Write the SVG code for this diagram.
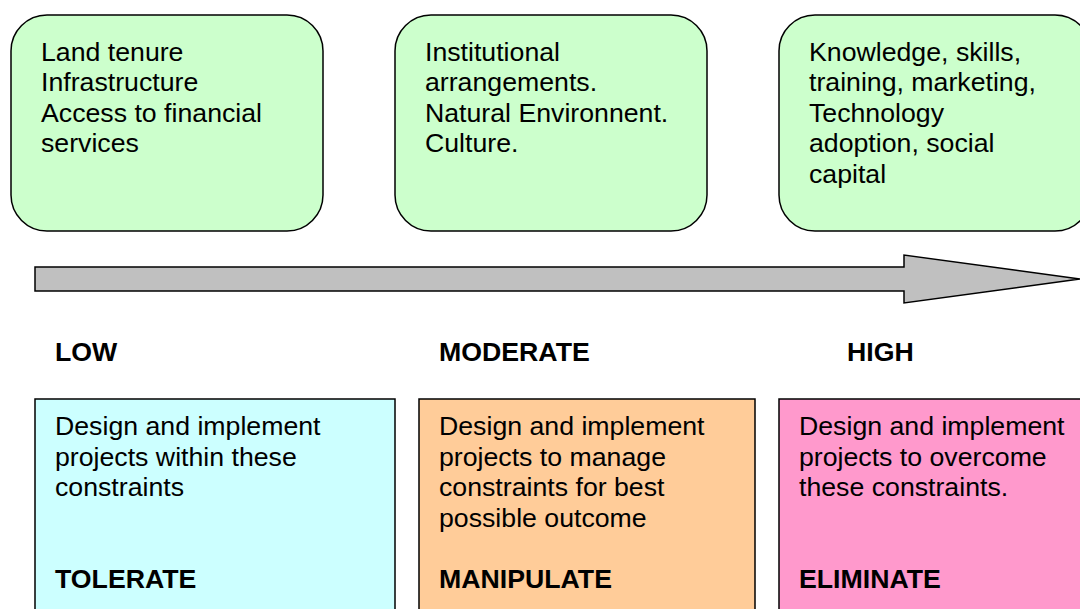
<svg xmlns="http://www.w3.org/2000/svg" width="1080" height="609" viewBox="0 0 1080 609">
<style>
.t{font-family:"Liberation Sans",Arial,sans-serif;font-size:26.7px;fill:#000}
.b{font-weight:bold}
.top{fill:#CCFFCC;stroke:#000;stroke-width:1.5}
.bot{stroke:#000;stroke-width:1.5}
</style>
<rect width="1080" height="609" fill="#fff"/>
<g id="factor1">
<rect class="top" x="11" y="15" width="312" height="216" rx="36"/>
<text class="t" x="41" y="60.5">Land tenure</text>
<text class="t" x="41" y="91">Infrastructure</text>
<text class="t" x="41" y="121.5">Access to financial</text>
<text class="t" x="41" y="152">services</text>
</g>
<g id="factor2">
<rect class="top" x="395" y="15" width="312" height="216" rx="36"/>
<text class="t" x="425" y="60.5">Institutional</text>
<text class="t" x="425" y="91">arrangements.</text>
<text class="t" x="425" y="121.5">Natural Environnent.</text>
<text class="t" x="425" y="152">Culture.</text>
</g>
<g id="factor3">
<rect class="top" x="779" y="15" width="312" height="216" rx="36"/>
<text class="t" x="809" y="60.5">Knowledge, skills,</text>
<text class="t" x="809" y="91">training, marketing,</text>
<text class="t" x="809" y="121.5">Technology</text>
<text class="t" x="809" y="152">adoption, social</text>
<text class="t" x="809" y="182.5">capital</text>
</g>
<g id="connectors">
<path d="M35,267 H904 V255 L1080,279 L904,303 V291 H35 Z" fill="#C0C0C0" stroke="#000" stroke-width="1.5"/>
</g>
<g id="levels">
<text class="t b" x="55" y="361">LOW</text>
<text class="t b" x="439" y="361">MODERATE</text>
<text class="t b" x="847" y="361">HIGH</text>
</g>
<g id="tolerate">
<rect class="bot" x="35" y="399" width="360" height="230" fill="#CCFFFF"/>
<text class="t" x="55" y="435">Design and implement</text>
<text class="t" x="55" y="465.5">projects within these</text>
<text class="t" x="55" y="496">constraints</text>
<text class="t b" x="55" y="588">TOLERATE</text>
</g>
<g id="manipulate">
<rect class="bot" x="419" y="399" width="336" height="230" fill="#FFCC99"/>
<text class="t" x="439" y="435">Design and implement</text>
<text class="t" x="439" y="465.5">projects to manage</text>
<text class="t" x="439" y="496">constraints for best</text>
<text class="t" x="439" y="526.5">possible outcome</text>
<text class="t b" x="439" y="588">MANIPULATE</text>
</g>
<g id="eliminate">
<rect class="bot" x="779" y="399" width="320" height="230" fill="#FF99CC"/>
<text class="t" x="799" y="435">Design and implement</text>
<text class="t" x="799" y="465.5">projects to overcome</text>
<text class="t" x="799" y="496">these constraints.</text>
<text class="t b" x="799" y="588">ELIMINATE</text>
</g>
</svg>
